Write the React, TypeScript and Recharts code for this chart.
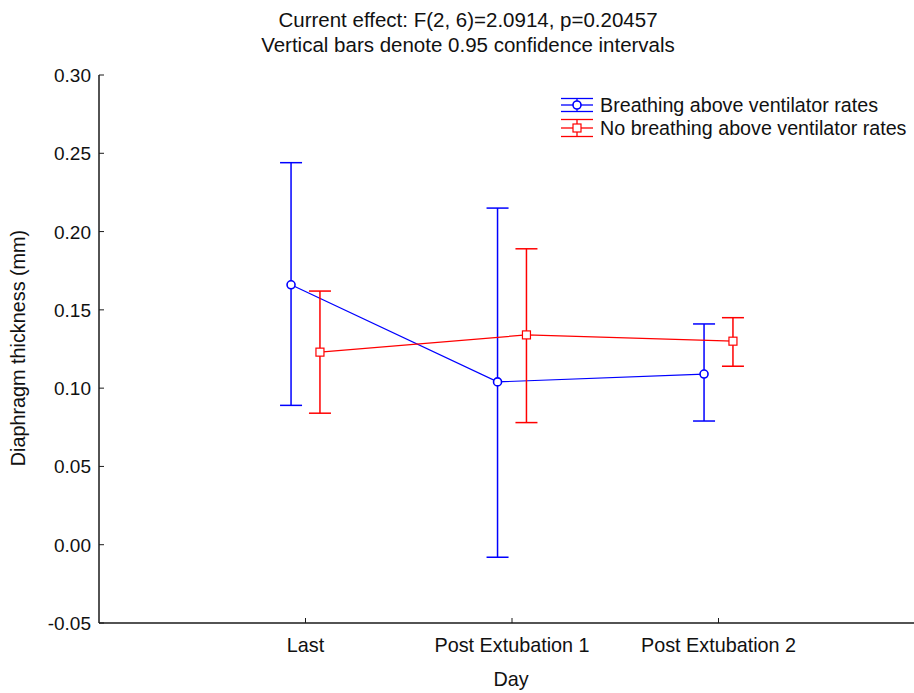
import React from "react";
import { ComposedChart, Line, XAxis, YAxis, ErrorBar } from "recharts";

// Day categories on the x axis
const categories = ["Last", "Post Extubation 1", "Post Extubation 2"];

// Breathing above ventilator rates: means and 95% CI bounds
const breathingMean = [0.166, 0.104, 0.109];
const breathingLow = [0.089, -0.008, 0.079];
const breathingHigh = [0.244, 0.215, 0.141];

// No breathing above ventilator rates: means and 95% CI bounds
const noBreathingMean = [0.123, 0.134, 0.13];
const noBreathingLow = [0.084, 0.078, 0.114];
const noBreathingHigh = [0.162, 0.189, 0.145];

const yTicks = [-0.05, 0, 0.05, 0.1, 0.15, 0.2, 0.25, 0.3];
const xTicks = [1, 2, 3];

const BLUE = "#0000ff";
const RED = "#ff0000";
const AXIS = "#1a1a1a";
const SANS = "'Liberation Sans', Arial, sans-serif";

// Series points sit slightly left/right of each category so the bars don't overlap
const buildSeries = (mean: number[], low: number[], high: number[], shift: number) =>
  mean.map((m, i) => ({
    x: i + 1 + shift,
    y: m,
    err: [m - low[i], high[i] - m],
  }));

const breathingData = buildSeries(breathingMean, breathingLow, breathingHigh, -0.07);
const noBreathingData = buildSeries(noBreathingMean, noBreathingLow, noBreathingHigh, 0.07);

const BottomTick = (props: any) => {
  const { x, y, payload } = props;
  return (
    <g>
      <line x1={x} x2={x} y1={y} y2={y - 5} stroke={AXIS} strokeWidth={1} />
      <text x={x} y={y + 29} textAnchor="middle" fontFamily={SANS} fontSize={19.8} fill="#111">
        {categories[payload.value - 1]}
      </text>
    </g>
  );
};

const TopTick = (props: any) => {
  const { x, y } = props;
  return <line x1={x} x2={x} y1={y} y2={y + 5} stroke={AXIS} strokeWidth={1} />;
};

const LeftTick = (props: any) => {
  const { x, y, payload } = props;
  return (
    <g>
      <line x1={x} x2={x + 5} y1={y} y2={y} stroke={AXIS} strokeWidth={1} />
      <text x={x - 8} y={y + 7} textAnchor="end" fontFamily={SANS} fontSize={19} fill="#111">
        {payload.value.toFixed(2)}
      </text>
    </g>
  );
};

const CircleDot = (props: any) => {
  const { cx, cy } = props;
  if (cx == null || cy == null) return null;
  return <circle cx={cx} cy={cy} r={4} fill="white" stroke={BLUE} strokeWidth={1.6} />;
};

const SquareDot = (props: any) => {
  const { cx, cy } = props;
  if (cx == null || cy == null) return null;
  return <rect x={cx - 4} y={cy - 4} width={8} height={8} fill="white" stroke={RED} strokeWidth={1.2} />;
};

const LegendIcon = ({ y, gap, color, kind }: { y: number; gap: number; color: string; kind: "circle" | "square" }) => (
  <g>
    <line x1={561} x2={593} y1={y - gap} y2={y - gap} stroke={color} strokeWidth={1.3} />
    <line x1={561} x2={593} y1={y} y2={y} stroke={color} strokeWidth={1.3} />
    <line x1={561} x2={593} y1={y + gap} y2={y + gap} stroke={color} strokeWidth={1.3} />
    <line x1={577} x2={577} y1={y - gap} y2={y + gap} stroke={color} strokeWidth={1.3} />
    {kind === "circle" ? (
      <circle cx={577} cy={y} r={4} fill="white" stroke={color} strokeWidth={1.6} />
    ) : (
      <rect x={573} y={y - 4} width={8} height={8} fill="white" stroke={color} strokeWidth={1.2} />
    )}
  </g>
);

export default function App() {
  return (
    <div style={{ position: "absolute", left: 0, top: 0, width: 914, height: 693, overflow: "hidden", background: "white" }}>
      <ComposedChart
        width={940}
        height={693}
        margin={{ top: 75, right: 15, bottom: 0, left: 0 }}
        style={{ position: "absolute", left: 0, top: 0 }}
      >
        <XAxis
          dataKey="x"
          type="number"
          domain={[0, 4]}
          ticks={xTicks}
          height={70}
          tickSize={0}
          tickMargin={0}
          tickLine={false}
          axisLine={{ stroke: AXIS, strokeWidth: 1.5 }}
          tick={<BottomTick />}
          allowDataOverflow
        />
        <XAxis
          xAxisId="top"
          orientation="top"
          type="number"
          domain={[0, 4]}
          ticks={xTicks}
          height={0}
          tickSize={0}
          tickMargin={0}
          tickLine={false}
          axisLine={{ stroke: AXIS, strokeWidth: 1.5 }}
          tick={<TopTick />}
        />
        <YAxis
          type="number"
          domain={[-0.05, 0.3]}
          ticks={yTicks}
          width={99}
          tickSize={0}
          tickMargin={0}
          tickLine={false}
          axisLine={{ stroke: AXIS, strokeWidth: 1.5 }}
          tick={<LeftTick />}
          allowDataOverflow
        />
        <Line
          data={breathingData}
          dataKey="y"
          stroke={BLUE}
          strokeWidth={1.2}
          dot={<CircleDot />}
          activeDot={false}
          isAnimationActive={false}
        >
          <ErrorBar dataKey="err" direction="y" width={11} stroke={BLUE} strokeWidth={1.5} />
        </Line>
        <Line
          data={noBreathingData}
          dataKey="y"
          stroke={RED}
          strokeWidth={1.2}
          dot={<SquareDot />}
          activeDot={false}
          isAnimationActive={false}
        >
          <ErrorBar dataKey="err" direction="y" width={11} stroke={RED} strokeWidth={1.5} />
        </Line>
      </ComposedChart>
      <svg width={914} height={693} style={{ position: "absolute", left: 0, top: 0, pointerEvents: "none" }}>
        <text x={468} y={27} textAnchor="middle" fontFamily={SANS} fontSize={20.5} fill="#111">
          Current effect: F(2, 6)=2.0914, p=0.20457
        </text>
        <text x={468} y={52} textAnchor="middle" fontFamily={SANS} fontSize={20.5} fill="#111">
          Vertical bars denote 0.95 confidence intervals
        </text>
        <text
          x={25}
          y={348}
          textAnchor="middle"
          fontFamily={SANS}
          fontSize={19.8}
          fill="#111"
          transform="rotate(-90 25 348)"
        >
          Diaphragm thickness (mm)
        </text>
        <text x={511} y={686} textAnchor="middle" fontFamily={SANS} fontSize={19.8} fill="#111">
          Day
        </text>
        <LegendIcon y={105} gap={6.5} color={BLUE} kind="circle" />
        <LegendIcon y={128} gap={8.5} color={RED} kind="square" />
        <text x={600} y={111.5} fontFamily={SANS} fontSize={19.7} fill="#111">
          Breathing above ventilator rates
        </text>
        <text x={600} y={135} fontFamily={SANS} fontSize={19.7} fill="#111">
          No breathing above ventilator rates
        </text>
      </svg>
    </div>
  );
}
